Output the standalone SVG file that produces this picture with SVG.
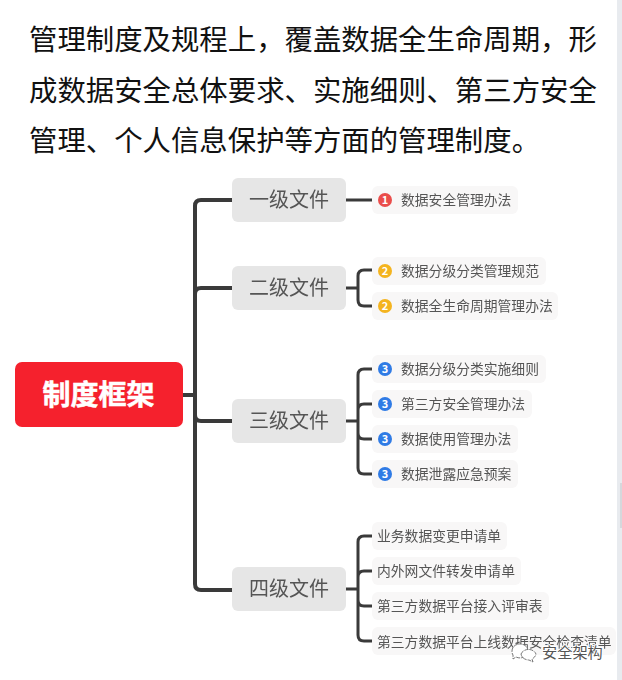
<svg xmlns="http://www.w3.org/2000/svg" width="622" height="680" viewBox="0 0 622 680">
<defs><filter id="soft" x="-5%" y="-20%" width="110%" height="140%"><feGaussianBlur stdDeviation="0.35"/></filter></defs>
<style>
text{font-family:"Noto Sans CJK SC","Noto Sans",sans-serif}
.h{font-size:28.4px;fill:#111}
.l2{fill:#e6e6e6}
.t2{font-size:20px;fill:#555;text-anchor:middle;filter:url(#soft)}
.leaf{fill:#f8f7f7}
.t3{font-size:13.8px;fill:#555;filter:url(#soft)}
.c{fill:none;stroke:#3a3a3a;stroke-linecap:butt}
.b{stroke-width:4px}
.s{stroke-width:3px}
.n{font-size:11px;font-weight:700;fill:#fff;text-anchor:middle}
.r{fill:#ea4d4b}.y{fill:#f4b41f}.bl{fill:#2f7be5}
</style>
<rect x="617" y="0" width="5" height="680" fill="#e8ebef"/>
<rect x="620" y="483" width="2" height="45" fill="#d5d8dc"/>
<g id="intro">
<text class="h" x="29" y="50">管理制度及规程上，覆盖数据全生命周期，形</text>
<text class="h" x="29" y="101">成数据安全总体要求、实施细则、第三方安全</text>
<text class="h" x="29" y="151">管理、个人信息保护等方面的管理制度。</text>
</g>
<g id="connectors">
<path class="c b" d="M182 395H195M232 200H201Q195 200 195 206V584Q195 590 201 590H232M232 288H201Q195 288 195 294M232 421H201Q195 421 195 415"/>
<path class="c s" d="M346 200H372M346 288H358M372 270H364Q358 270 358 276V300Q358 306 364 306H372"/>
<path class="c s" d="M346 421H358M372 369H364Q358 369 358 375V468Q358 474 364 474H372M372 404H364Q358 404 358 410M372 439H364Q358 439 358 433"/>
<path class="c s" d="M346 589H358M372 536H364Q358 536 358 542V635Q358 641 364 641H372M372 571H364Q358 571 358 577M372 606H364Q358 606 358 600"/>
</g>
<g id="root"><rect x="15" y="362" width="168" height="65" rx="7" fill="#f5212d"/><text x="98.5" y="405" font-size="28" font-weight="700" fill="#fff" stroke="#fff" stroke-width="0.5" text-anchor="middle">制度框架</text></g>
<g id="l1"><rect class="l2" x="232" y="178" width="114" height="44" rx="6"/><text class="t2" x="289" y="207">一级文件</text></g>
<g id="l2"><rect class="l2" x="232" y="266" width="114" height="44" rx="6"/><text class="t2" x="289" y="295">二级文件</text></g>
<g id="l3"><rect class="l2" x="232" y="399" width="114" height="44" rx="6"/><text class="t2" x="289" y="428">三级文件</text></g>
<g id="l4"><rect class="l2" x="232" y="567" width="114" height="44" rx="6"/><text class="t2" x="289" y="596">四级文件</text></g>
<g id="a1"><rect class="leaf" x="372" y="186" width="146" height="28" rx="6"/><circle class="r" cx="385" cy="200" r="7"/><text class="n" x="385" y="204">1</text><text class="t3" x="401" y="205">数据安全管理办法</text></g>
<g id="b1"><rect class="leaf" x="372" y="257" width="174" height="28" rx="6"/><circle class="y" cx="385" cy="271" r="7"/><text class="n" x="385" y="275">2</text><text class="t3" x="401" y="276">数据分级分类管理规范</text></g>
<g id="b2"><rect class="leaf" x="372" y="292" width="186" height="28" rx="6"/><circle class="y" cx="385" cy="306" r="7"/><text class="n" x="385" y="310">2</text><text class="t3" x="401" y="311">数据全生命周期管理办法</text></g>
<g id="c1"><rect class="leaf" x="372" y="355" width="174" height="28" rx="6"/><circle class="bl" cx="385" cy="369" r="7"/><text class="n" x="385" y="373">3</text><text class="t3" x="401" y="374">数据分级分类实施细则</text></g>
<g id="c2"><rect class="leaf" x="372" y="390" width="160" height="28" rx="6"/><circle class="bl" cx="385" cy="404" r="7"/><text class="n" x="385" y="408">3</text><text class="t3" x="401" y="409">第三方安全管理办法</text></g>
<g id="c3"><rect class="leaf" x="372" y="425" width="146" height="28" rx="6"/><circle class="bl" cx="385" cy="439" r="7"/><text class="n" x="385" y="443">3</text><text class="t3" x="401" y="444">数据使用管理办法</text></g>
<g id="c4"><rect class="leaf" x="372" y="460" width="146" height="28" rx="6"/><circle class="bl" cx="385" cy="474" r="7"/><text class="n" x="385" y="478">3</text><text class="t3" x="401" y="479">数据泄露应急预案</text></g>
<g id="d1"><rect class="leaf" x="372" y="522" width="135" height="28" rx="6"/><text class="t3" x="377" y="541">业务数据变更申请单</text></g>
<g id="d2"><rect class="leaf" x="372" y="557" width="149" height="28" rx="6"/><text class="t3" x="377" y="576">内外网文件转发申请单</text></g>
<g id="d3"><rect class="leaf" x="372" y="592" width="177" height="28" rx="6"/><text class="t3" x="377" y="611">第三方数据平台接入评审表</text></g>
<g id="d4"><rect class="leaf" x="372" y="627" width="244" height="28" rx="6"/><text class="t3" x="377" y="647">第三方数据平台上线数据安全检查清单</text></g>
<g id="watermark"><path d="M512 651a8 7 0 1 1 4 6l-3 2 0-4a8 7 0 0 1-1-4Z" fill="#fff" stroke="#777" stroke-width="1" stroke-dasharray="4 1"/><path d="M521 654a8 7 0 0 1 15 0 8 7 0 0 1-4 5l1 3-4-2a8 7 0 0 1-8-6Z" fill="#fff" stroke="#777" stroke-width="1" stroke-dasharray="4 1"/><text x="542" y="658" font-size="15.2" fill="#555" stroke="#fff" stroke-width="2" paint-order="stroke">安全架构</text></g>
</svg>
